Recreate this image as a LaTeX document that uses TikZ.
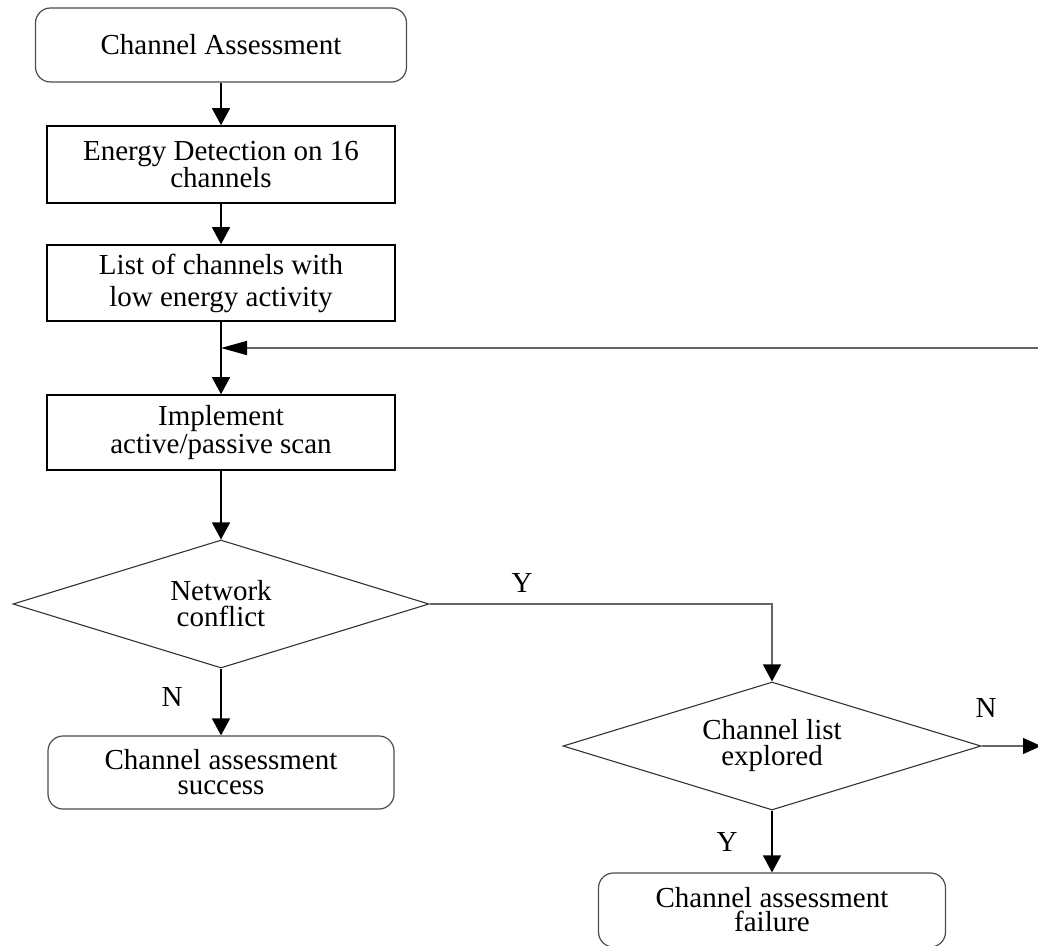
\documentclass[tikz,border=0pt]{standalone}
\usepackage{fontspec}
\setmainfont{Liberation Serif}
\usetikzlibrary{shapes.geometric,arrows.meta}
\begin{document}
\begin{tikzpicture}[x=1pt,y=-1pt,
  every node/.style={inner sep=0pt, align=center},
  tx/.style={font=\fontsize{29}{#1}\selectfont},
  procbox/.style={draw=black, line width=1.6pt, rectangle, minimum width=348pt, minimum height=76pt},
  endbox/.style={draw=black!70, line width=1.2pt, rounded corners=15pt, rectangle},
  decision/.style={draw=black!80, line width=1.1pt, diamond, aspect=3.25, minimum width=416pt, minimum height=128pt},
  flow/.style={line width=1.4pt, -{Triangle[length=17pt,width=18pt,color=black]}},
  lbl/.style={font=\fontsize{29}{29}\selectfont}
]
\useasboundingbox (0,0) rectangle (1038,945);
\clip (0,0) rectangle (1038,945);

% main column
\node[endbox, minimum width=371pt, minimum height=74pt, tx=29pt] (start) at (221,45) {Channel Assessment};
\node[procbox, minimum height=77pt, tx=25pt] (energy) at (221,164.5) {Energy Detection on 16\\channels};
\node[procbox, tx=32pt] (list) at (221,283) {List of channels with\\low energy activity};
\node[procbox, minimum height=75pt, tx=28pt] (scan) at (221,432.5) {Implement\\active/passive scan};
\node[decision, tx=26pt] (conflict) at (221,604) {Network\\conflict};
\node[endbox, minimum width=346pt, minimum height=73pt, tx=25pt] (success) at (221,772.5) {Channel assessment\\success};

% right branch
\node[decision, minimum width=418pt, tx=26pt] (explored) at (772,746) {Channel list\\explored};
\node[endbox, minimum width=347pt, minimum height=74pt, tx=24pt] (failure) at (772,910) {Channel assessment\\failure};

% branch labels
\node[lbl] (ylabA) at (522,583) {Y};
\node[lbl] (nlabA) at (172,697) {N};
\node[lbl] (nlabB) at (986,708) {N};
\node[lbl] (ylabB) at (727,842) {Y};

% free ends of the loop-back and exit lines
\coordinate (loopin) at (1060,348);
\coordinate (join) at (221,348);
\coordinate (exitN) at (1041,746);

% connectors
\draw[flow] (start) -- (energy);
\draw[flow] (energy) -- (list);
\draw[flow] (list) -- (scan);
\draw[flow] (scan) -- (conflict);
\draw[flow] (conflict) -- (success);
\draw[flow, draw=black!60] (conflict.east) -| (explored.north);
\draw[flow] (explored) -- (failure);
\draw[line width=1.4pt, draw=black!60, -{Triangle[length=18pt,width=16pt,color=black]}] (explored.east) -- (exitN);
\draw[line width=1.6pt, draw=black!60, -{Triangle[length=26pt,width=14pt,color=black]}] (loopin) -- (join);
\end{tikzpicture}
\end{document}
